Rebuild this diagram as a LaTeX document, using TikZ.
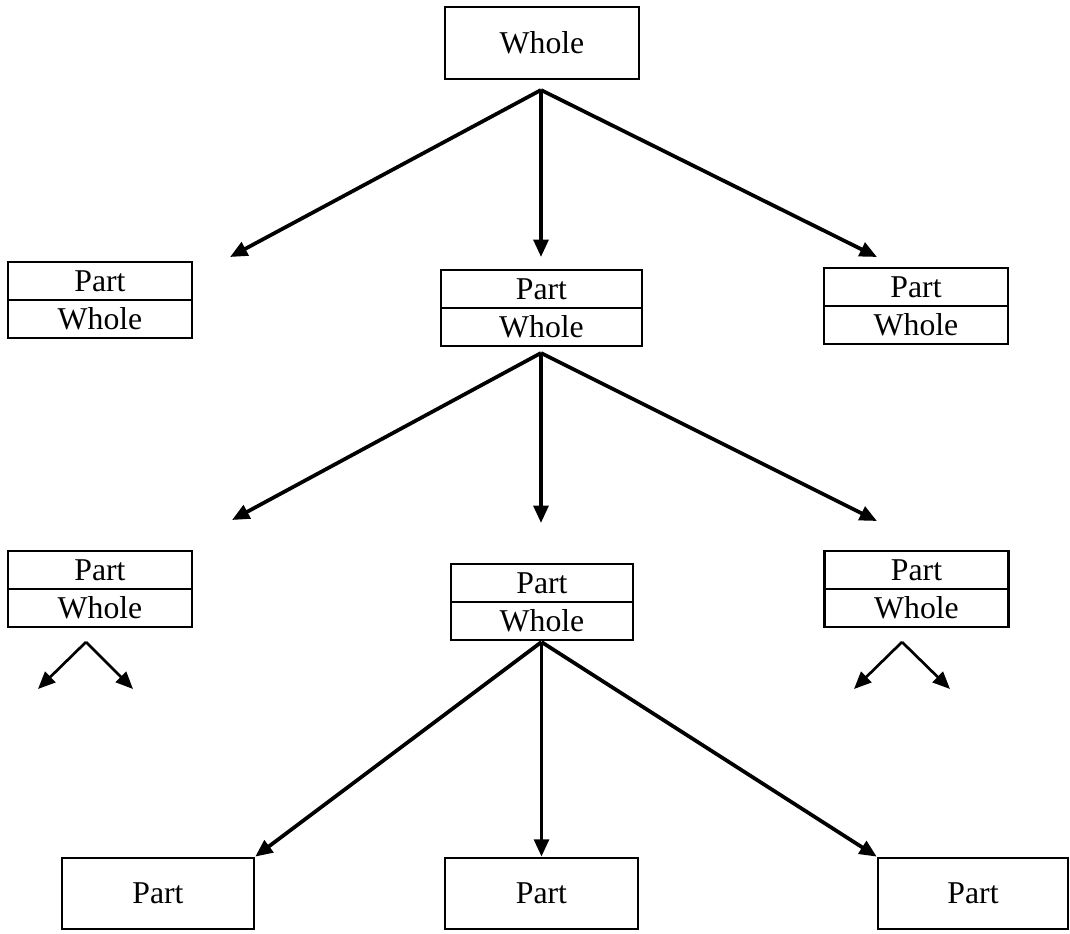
\documentclass[tikz,border=0pt]{standalone}
\usepackage{fontspec}
\setmainfont{Liberation Serif}
\usetikzlibrary{arrows.meta}
\begin{document}
\begin{tikzpicture}[x=0.75pt,y=-0.75pt,
  box/.style={draw, line width=1.8pt, inner sep=0pt, align=center,
    font=\fontsize{23.8}{28}\selectfont},
  half/.style={box, minimum height=28.5pt},
  full/.style={box, minimum height=53.5pt},
  link/.style={line width=2.8pt, -{Triangle[length=13pt,width=11pt]}},
  twig/.style={line width=2pt, -{Triangle[length=13pt,width=11pt]}}]
\useasboundingbox (0,0) rectangle (1070,933);

% root
\node[full, minimum width=145.5pt, minimum height=54pt] (top) at (542,43) {Whole};

% second level
\node[half, minimum width=138pt]    (p2l) at (100,281) {Part};
\node[half, minimum width=138pt]    (w2l) at (100,319) {Whole};
\node[half, minimum width=150.75pt] (p2m) at (541.5,289) {Part};
\node[half, minimum width=150.75pt] (w2m) at (541.5,327) {Whole};
\node[half, minimum width=138pt]    (p2r) at (916,287) {Part};
\node[half, minimum width=138pt]    (w2r) at (916,325) {Whole};

% third level
\node[half, minimum width=138pt]    (p3l) at (100,570) {Part};
\node[half, minimum width=138pt]    (w3l) at (100,608) {Whole};
\node[half, minimum width=136.5pt]  (p3m) at (542,583) {Part};
\node[half, minimum width=136.5pt]  (w3m) at (542,621) {Whole};
\node[half, minimum width=138pt]    (p3r) at (916.5,570) {Part};
\node[half, minimum width=138pt]    (w3r) at (916.5,608) {Whole};

% leaves
\node[full, minimum width=144pt]    (b1) at (158,893.5) {Part};
\node[full, minimum width=144.75pt] (b2) at (541.5,893.5) {Part};
\node[full, minimum width=142.5pt]  (b3) at (973,893.5) {Part};

% branch points and free arrow ends
\coordinate (s1) at (541,90);
\coordinate (s2) at (541,353);
\coordinate (s3) at (541.5,642);
\coordinate (e1l) at (230,257);
\coordinate (e1m) at (541,257);
\coordinate (e1r) at (877,257);
\coordinate (e2l) at (232,520);
\coordinate (e2m) at (541,523);
\coordinate (e2r) at (877,521);

\draw[link] (s1) -- (e1l);
\draw[link] (s1) -- (e1m);
\draw[link] (s1) -- (e1r);
\draw[link] (s2) -- (e2l);
\draw[link] (s2) -- (e2m);
\draw[link] (s2) -- (e2r);
\draw[link] (s3) -- (b1.north east);
\draw[link] (s3) -- (b2.north);
\draw[link] (s3) -- (b3.north west);

% small forks under the side boxes
\coordinate (fl) at (86,642);
\coordinate (fll) at (38,689);
\coordinate (flr) at (133,689);
\coordinate (fr) at (902,642);
\coordinate (frl) at (854,689);
\coordinate (frr) at (950,689);
\draw[twig] (fl) -- (fll);
\draw[twig] (fl) -- (flr);
\draw[twig] (fr) -- (frl);
\draw[twig] (fr) -- (frr);
\end{tikzpicture}
\end{document}
